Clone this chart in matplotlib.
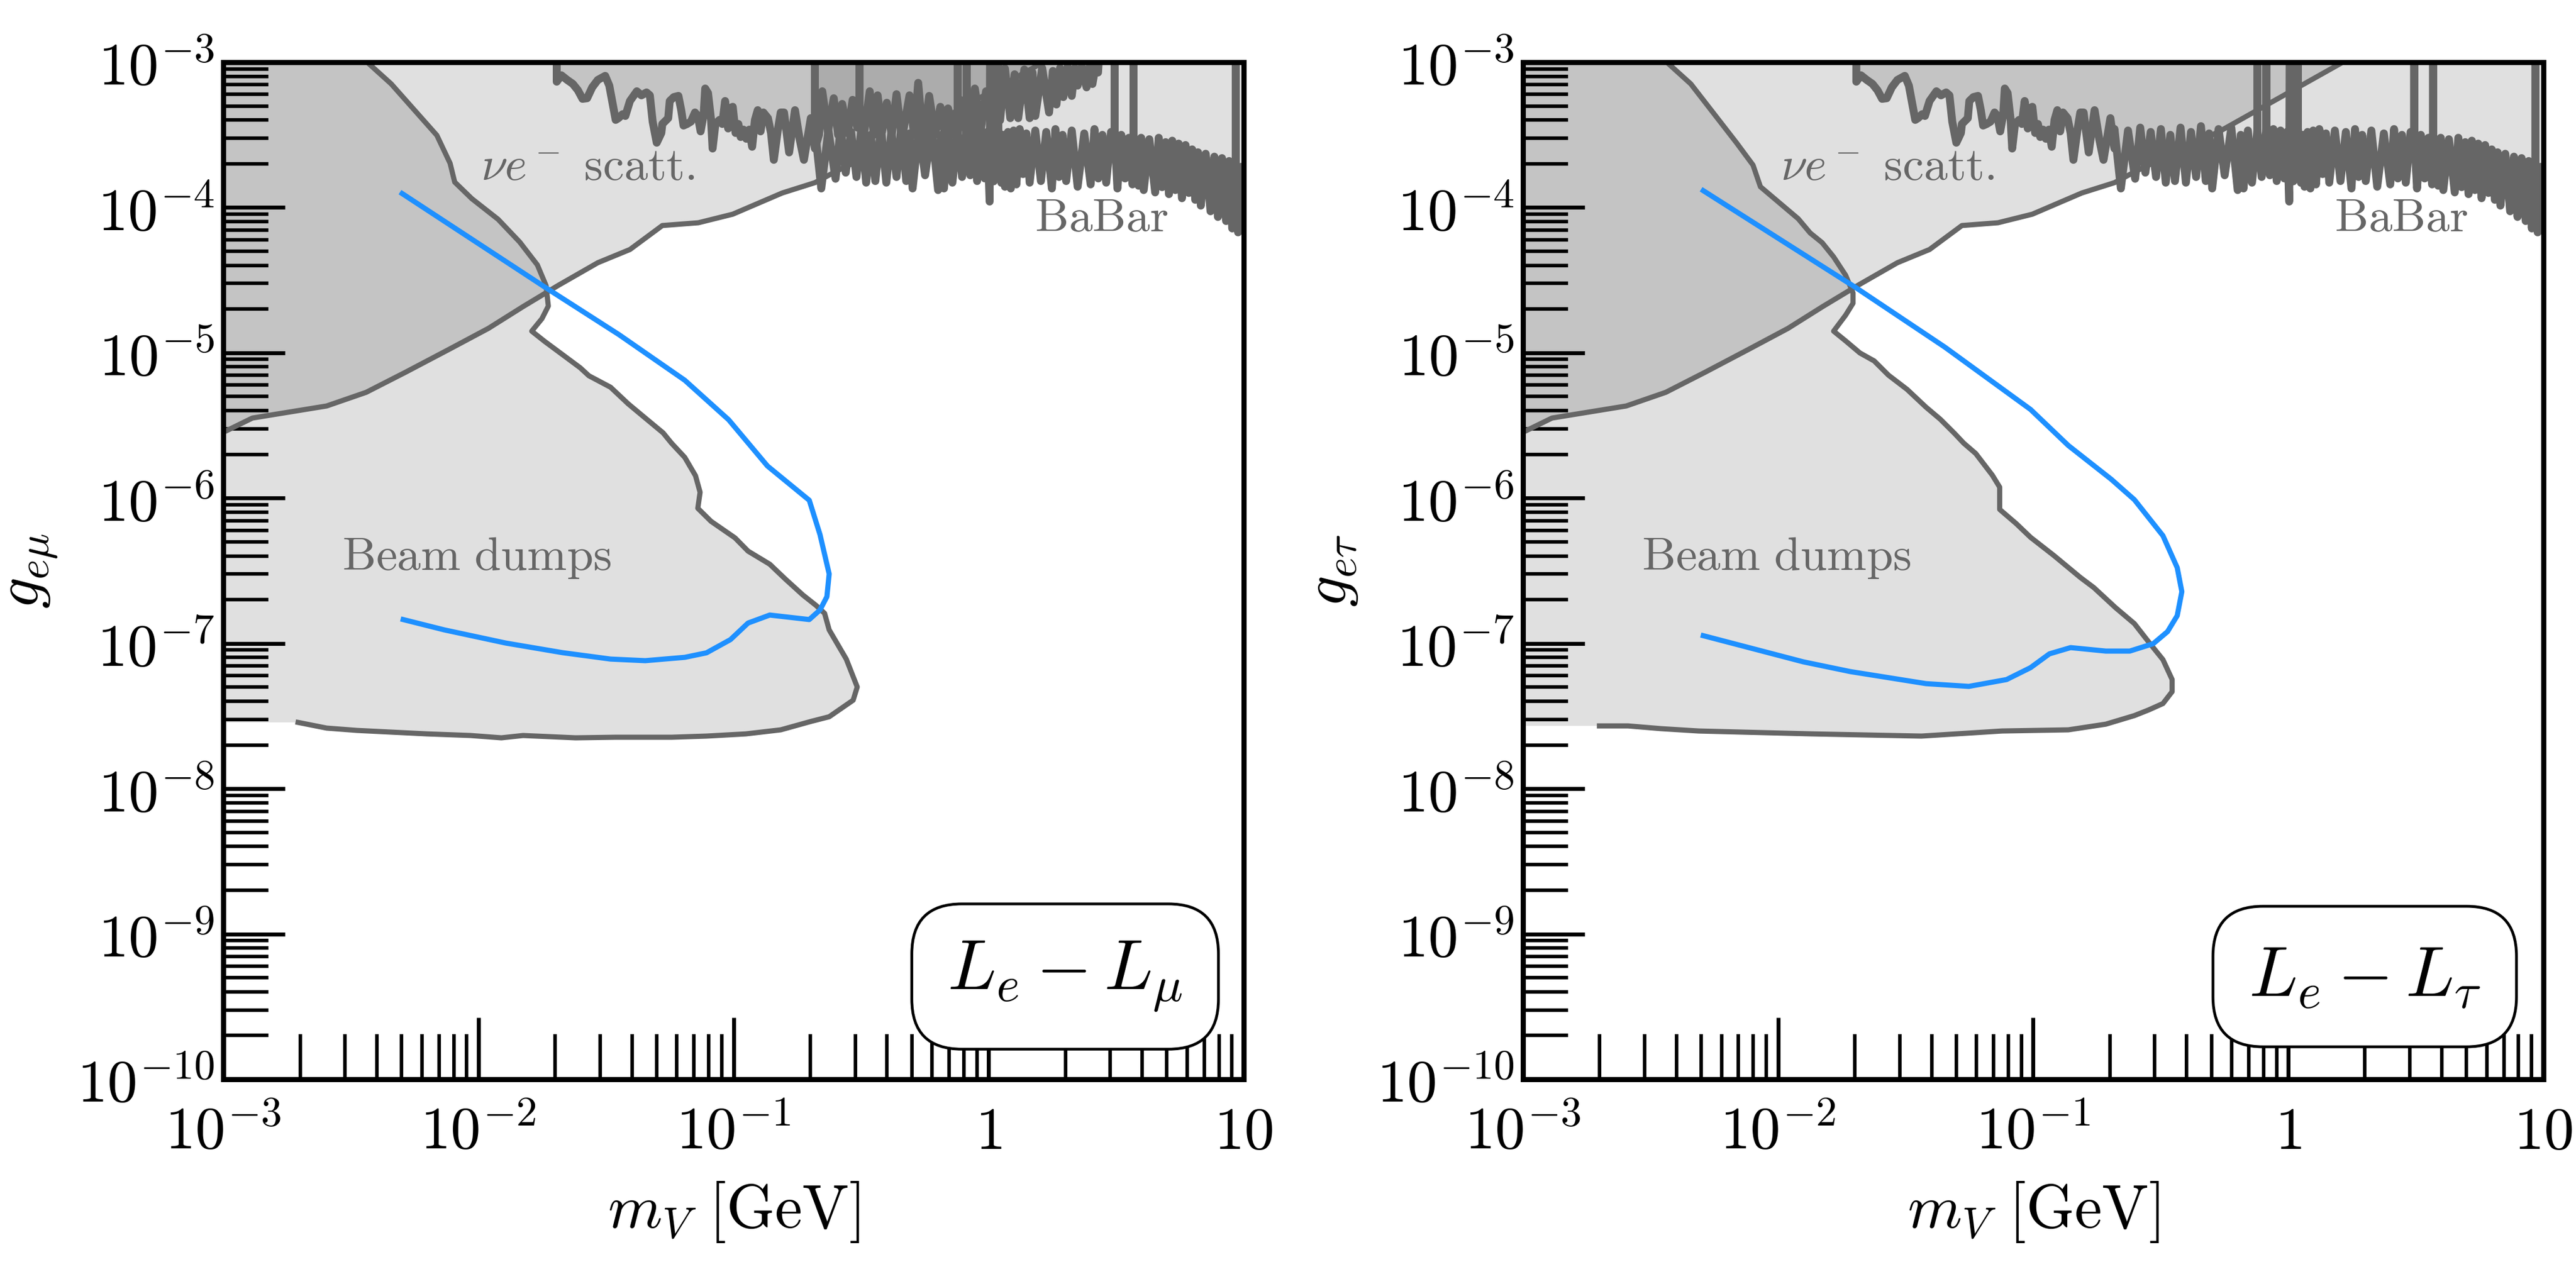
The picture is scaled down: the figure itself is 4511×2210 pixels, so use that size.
import numpy as np
import matplotlib.pyplot as plt
from matplotlib.ticker import LogLocator, NullFormatter

plt.rcParams['mathtext.fontset'] = 'cm'
plt.rcParams['font.family'] = ['DejaVu Serif']

# all contours stored as (log10 m_V/GeV, log10 g)
nu_scatt = [(-3.0, -5.547), (-2.886, -5.449), (-2.595, -5.366), (-2.440, -5.272),
            (-2.286, -5.134), (-2.116, -4.977), (-1.961, -4.832), (-1.825, -4.682),
            (-1.688, -4.537), (-1.532, -4.380), (-1.406, -4.289), (-1.279, -4.124),
            (-1.138, -4.105), (-1.003, -4.046), (-0.809, -3.900), (-0.681, -3.829),
            (-0.598, -3.751), (-0.269, -3.476), (0.214, -3.0)]

beam_dump_emu = [(-2.436, -3.0), (-2.342, -3.149), (-2.163, -3.503), (-2.111, -3.696),
                 (-2.093, -3.825), (-2.026, -3.939), (-1.923, -4.081), (-1.838, -4.238),
                 (-1.769, -4.395), (-1.735, -4.537), (-1.726, -4.678), (-1.751, -4.765),
                 (-1.791, -4.851), (-1.740, -4.922), (-1.670, -5.013), (-1.601, -5.103),
                 (-1.567, -5.158), (-1.482, -5.237), (-1.413, -5.351), (-1.346, -5.449),
                 (-1.276, -5.551), (-1.243, -5.622), (-1.191, -5.720), (-1.149, -5.846),
                 (-1.131, -5.960), (-1.140, -6.070), (-1.088, -6.160), (-0.994, -6.274),
                 (-0.943, -6.365), (-0.858, -6.455), (-0.797, -6.557), (-0.728, -6.667),
                 (-0.677, -6.738), (-0.643, -6.793), (-0.625, -6.907), (-0.558, -7.108),
                 (-0.515, -7.300), (-0.531, -7.391), (-0.625, -7.505), (-0.694, -7.536),
                 (-0.815, -7.595), (-0.952, -7.623), (-1.106, -7.638), (-1.243, -7.646),
                 (-1.464, -7.646), (-1.619, -7.650), (-1.825, -7.634), (-1.910, -7.650),
                 (-2.031, -7.634), (-2.201, -7.623), (-2.476, -7.599), (-2.595, -7.583),
                 (-2.707, -7.544)]

beam_dump_etau = [(-2.436, -3.0), (-2.342, -3.149), (-2.163, -3.554), (-2.098, -3.708),
                  (-2.069, -3.857), (-1.921, -4.077), (-1.874, -4.175), (-1.827, -4.242),
                  (-1.782, -4.340), (-1.735, -4.466), (-1.706, -4.588), (-1.706, -4.659),
                  (-1.735, -4.741), (-1.782, -4.851), (-1.735, -4.918), (-1.679, -5.001),
                  (-1.623, -5.056), (-1.567, -5.154), (-1.494, -5.252), (-1.420, -5.374),
                  (-1.364, -5.457), (-1.308, -5.555), (-1.272, -5.622), (-1.225, -5.693),
                  (-1.160, -5.842), (-1.131, -5.925), (-1.131, -6.078), (-1.066, -6.176),
                  (-1.010, -6.270), (-0.918, -6.396), (-0.815, -6.546), (-0.762, -6.616),
                  (-0.677, -6.754), (-0.603, -6.864), (-0.547, -6.990), (-0.491, -7.112),
                  (-0.455, -7.249), (-0.455, -7.332), (-0.491, -7.414), (-0.547, -7.458),
                  (-0.603, -7.497), (-0.715, -7.556), (-0.862, -7.595), (-1.122, -7.603),
                  (-1.438, -7.638), (-1.865, -7.623), (-2.311, -7.603), (-2.458, -7.587),
                  (-2.588, -7.568), (-2.700, -7.568)]

reach_emu = [(-2.299, -3.904), (-1.735, -4.553), (-1.449, -4.875), (-1.191, -5.189),
             (-1.019, -5.461), (-0.867, -5.779), (-0.703, -6.015), (-0.661, -6.251),
             (-0.625, -6.522), (-0.634, -6.679), (-0.661, -6.770), (-0.703, -6.836),
             (-0.858, -6.805), (-0.943, -6.860), (-1.012, -6.974), (-1.106, -7.065),
             (-1.191, -7.096), (-1.346, -7.119), (-1.482, -7.108), (-1.670, -7.064),
             (-1.892, -6.998), (-2.134, -6.907), (-2.295, -6.836)]

reach_etau = [(-2.293, -3.884), (-1.697, -4.549), (-1.346, -4.961), (-1.010, -5.390),
              (-0.862, -5.638), (-0.694, -5.870), (-0.603, -6.011), (-0.491, -6.259),
              (-0.435, -6.479), (-0.417, -6.644), (-0.435, -6.809), (-0.473, -6.919),
              (-0.529, -7.002), (-0.621, -7.053), (-0.715, -7.053), (-0.853, -7.029),
              (-0.936, -7.072), (-1.010, -7.167), (-1.104, -7.249), (-1.252, -7.296),
              (-1.420, -7.277), (-1.717, -7.194), (-1.901, -7.127), (-2.293, -6.947)]

babar_low = [(-1.693, -2.9), (-1.693, -3.134), (-1.675, -3.090), (-1.652, -3.122),
             (-1.630, -3.149), (-1.610, -3.193), (-1.592, -3.252), (-1.574, -3.248),
             (-1.554, -3.173), (-1.532, -3.122), (-1.503, -3.094), (-1.487, -3.161),
             (-1.462, -3.397), (-1.451, -3.385), (-1.435, -3.358), (-1.424, -3.370),
             (-1.406, -3.267), (-1.379, -3.200), (-1.361, -3.228), (-1.341, -3.208),
             (-1.328, -3.228), (-1.317, -3.409), (-1.301, -3.554), (-1.283, -3.487),
             (-1.279, -3.425), (-1.256, -3.385), (-1.250, -3.267), (-1.234, -3.240),
             (-1.216, -3.232), (-1.205, -3.330), (-1.196, -3.436), (-1.182, -3.425),
             (-1.167, -3.409), (-1.151, -3.346), (-1.140, -3.370), (-1.129, -3.476),
             (-1.117, -3.358), (-1.111, -3.181), (-1.100, -3.212), (-1.088, -3.397),
             (-1.082, -3.594), (-1.071, -3.425), (-1.055, -3.397), (-1.044, -3.425),
             (-1.033, -3.267), (-1.021, -3.456), (-1.015, -3.318), (-1.003, -3.307),
             (-0.992, -3.487), (-0.981, -3.425), (-0.972, -3.515), (-0.961, -3.464),
             (-0.950, -3.527), (-0.938, -3.464), (-0.927, -3.582), (-0.916, -3.397),
             (-0.905, -3.330), (-0.894, -3.476), (-0.883, -3.346), (-0.865, -3.385),
             (-0.853, -3.487), (-0.842, -3.672), (-0.827, -3.476), (-0.815, -3.346),
             (-0.802, -3.346), (-0.782, -3.621), (-0.759, -3.330), (-0.741, -3.527),
             (-0.724, -3.672), (-0.697, -3.385), (-0.681, -3.594)]

# e-mu only: low-mass search carries on above the dimuon band
babar_low_ext = [(-0.665, -3.50), (-0.652, -3.200), (-0.630, -3.48), (-0.607, -3.248),
                 (-0.590, -3.50), (-0.574, -3.287), (-0.552, -3.49), (-0.533, -3.259),
                 (-0.515, -3.45), (-0.506, -3.30), (-0.506, -2.8), (-0.506, -3.30),
                 (-0.490, -3.515), (-0.466, -3.200), (-0.450, -3.50), (-0.435, -3.228),
                 (-0.418, -3.48), (-0.399, -3.279), (-0.380, -3.50), (-0.361, -3.220),
                 (-0.340, -3.527), (-0.310, -3.228), (-0.292, -3.50), (-0.276, -3.142),
                 (-0.256, -3.554), (-0.233, -3.232), (-0.210, -3.50), (-0.189, -3.307),
                 (-0.172, -3.49), (-0.159, -3.318), (-0.135, -3.50), (-0.110, -3.26),
                 (-0.085, -3.52), (-0.070, -3.22), (-0.060, -3.594), (-0.054, -3.181),
                 (-0.030, -3.46), (-0.010, -3.20), (0.010, -3.42), (0.026, -3.083),
                 (0.045, -3.40), (0.064, -3.043), (0.085, -3.385), (0.102, -3.083),
                 (0.116, -3.385), (0.140, -3.05), (0.161, -3.385), (0.172, -3.07),
                 (0.183, -3.370), (0.210, -3.04), (0.237, -3.346), (0.252, -3.06),
                 (0.266, -3.291), (0.280, -3.04), (0.293, -3.240), (0.310, -3.03),
                 (0.326, -3.232), (0.338, -3.04), (0.349, -3.161), (0.365, -3.03),
                 (0.384, -3.173), (0.396, -3.03), (0.407, -3.150), (0.420, -3.02),
                 (0.429, -3.071), (0.438, -2.8)]

babar_mumu = [(-0.681, -3.46), (-0.656, -3.869), (-0.628, -3.47), (-0.600, -3.802),
              (-0.580, -3.45), (-0.560, -3.760), (-0.539, -3.48), (-0.518, -3.790),
              (-0.499, -3.46), (-0.480, -3.829), (-0.462, -3.50), (-0.444, -3.818),
              (-0.422, -3.45), (-0.401, -3.829), (-0.381, -3.48), (-0.361, -3.790),
              (-0.342, -3.44), (-0.323, -3.818), (-0.310, -3.49), (-0.298, -3.869),
              (-0.273, -3.46), (-0.249, -3.778), (-0.223, -3.45), (-0.198, -3.880),
              (-0.186, -3.50), (-0.175, -3.869), (-0.158, -3.47), (-0.142, -3.829),
              (-0.121, -3.47), (-0.121, -2.8), (-0.121, -3.47), (-0.104, -3.79),
              (-0.086, -3.46), (-0.086, -2.8), (-0.086, -3.46), (-0.072, -3.778),
              (-0.058, -3.46), (-0.045, -3.818), (-0.030, -3.47), (-0.015, -3.800),
              (-0.005, -3.48), (0.004, -3.959), (0.006, -2.8), (0.008, -3.47),
              (0.020, -3.82), (0.038, -3.45), (0.038, -2.8), (0.038, -3.45),
              (0.050, -3.83), (0.057, -3.50), (0.064, -3.857), (0.076, -3.48),
              (0.087, -3.869), (0.098, -3.47), (0.109, -3.841), (0.122, -3.46),
              (0.135, -3.770), (0.148, -3.49), (0.161, -3.829), (0.183, -3.47),
              (0.205, -3.818), (0.226, -3.48), (0.248, -3.869), (0.262, -3.46),
              (0.276, -3.790), (0.290, -3.50), (0.304, -3.818), (0.326, -3.47),
              (0.349, -3.857), (0.375, -3.49), (0.400, -3.841), (0.415, -3.46),
              (0.430, -3.800), (0.446, -3.50), (0.461, -3.829), (0.480, -3.48),
              (0.494, -3.50), (0.494, -2.8), (0.494, -3.50), (0.505, -3.869),
              (0.520, -3.50), (0.535, -3.800), (0.550, -3.52), (0.564, -3.841),
              (0.568, -3.52), (0.568, -2.8), (0.568, -3.52), (0.588, -3.85),
              (0.598, -3.52), (0.608, -3.880), (0.630, -3.53), (0.653, -3.896),
              (0.667, -3.52), (0.680, -3.860), (0.694, -3.55), (0.707, -3.908),
              (0.720, -3.54), (0.732, -3.880), (0.745, -3.56), (0.758, -3.936),
              (0.772, -3.57), (0.785, -3.900), (0.798, -3.60), (0.810, -3.947),
              (0.821, -3.62), (0.832, -3.987), (0.851, -3.63), (0.870, -4.026),
              (0.885, -3.65), (0.899, -4.065), (0.915, -3.66), (0.931, -4.093),
              (0.943, -3.68), (0.955, -4.144), (0.969, -3.70), (0.969, -2.8),
              (0.969, -3.70), (0.978, -4.171), (0.990, -3.72), (1.0, -4.10)]

x_ticks = [1e-3, 1e-2, 1e-1, 1, 10]
x_ticklabels = [r'$10^{-3}$', r'$10^{-2}$', r'$10^{-1}$', r'$1$', r'$10$']
y_ticks = [10.0 ** k for k in range(-10, -2)]
y_ticklabels = [r'$10^{%d}$' % k for k in range(-10, -2)]

GREY = '#666666'
BLUE = '#1E90FF'


def to_mg(pairs):
    a = np.array(pairs)
    return 10 ** a[:, 0], 10 ** a[:, 1]


def draw_panel(ax, beam_dump, reach, babar_sets, ylabel, model):
    ax.set_xscale('log')
    ax.set_yscale('log')
    shade = dict(color='black', alpha=0.12, lw=0, zorder=1)
    edge = dict(color=GREY, lw=6.5, zorder=2, solid_joinstyle='round')

    m, g = to_mg(nu_scatt)
    ax.fill_between(m, g, 1e-2, **shade)
    ax.plot(m, g, **edge)

    m, g = to_mg(beam_dump)
    ax.fill(np.concatenate([m, [1e-3, 1e-3, m[0]]]),
            np.concatenate([g, [g[-1], 1e-2, 1e-2]]), **shade)
    ax.plot(m, g, **edge)

    for pairs in babar_sets:
        m, g = to_mg(pairs)
        ax.fill_between(m, g, 1e-2, **shade)
        ax.plot(m, g, color=GREY, lw=10, zorder=2,
                solid_joinstyle='round', solid_capstyle='round')

    m, g = to_mg(reach)
    ax.plot(m, g, color=BLUE, lw=6.5, zorder=3)

    ax.text(10 ** -1.99, 10 ** -3.81, r'$\nu e^-\ \mathrm{scatt.}$',
            color=GREY, fontsize=60, va='baseline', zorder=4)
    ax.text(10 ** 0.181, 10 ** -4.163, r'$\mathrm{BaBar}$',
            color=GREY, fontsize=60, va='baseline', zorder=4)
    ax.text(10 ** -2.534, 10 ** -6.495, r'$\mathrm{Beam\ dumps}$',
            color=GREY, fontsize=60, va='baseline', zorder=4)

    ax.text(0.825, 0.101, model, transform=ax.transAxes, fontsize=90,
            ha='center', va='center', zorder=10,
            bbox=dict(boxstyle='round,pad=0.5,rounding_size=0.7',
                      fc='white', ec='black', lw=3.5))

    ax.set_xlim(1e-3, 10)
    ax.set_ylim(1e-10, 1e-3)
    ax.set_xticks(x_ticks)
    ax.set_xticklabels(x_ticklabels, va='baseline')
    ax.set_yticks(y_ticks)
    ax.set_yticklabels(y_ticklabels)
    ax.xaxis.set_minor_locator(LogLocator(base=10, subs=np.arange(2, 10), numticks=100))
    ax.yaxis.set_minor_locator(LogLocator(base=10, subs=np.arange(2, 10), numticks=100))
    ax.xaxis.set_minor_formatter(NullFormatter())
    ax.yaxis.set_minor_formatter(NullFormatter())
    ax.tick_params(which='both', direction='in', top=False, right=False,
                   labelsize=76)
    ax.tick_params(which='major', length=78, width=5)
    ax.tick_params(which='minor', length=57, width=4.5)
    ax.tick_params(axis='y', pad=11)
    ax.tick_params(axis='x', pad=88)
    for s in ax.spines.values():
        s.set_linewidth(6.5)
        s.set_zorder(5)

    ax.set_xlabel(r'$m_V\ [\mathrm{GeV}]$', fontsize=78)
    ax.xaxis.set_label_coords(0.5, -0.099)
    ax.set_ylabel(ylabel, fontsize=78)
    ax.yaxis.set_label_coords(-0.16, 0.5)


fig = plt.figure(figsize=(45.11, 22.10), dpi=100)
ax1 = fig.add_axes([0.0867, 0.1448, 0.3961, 0.8059])
ax2 = fig.add_axes([0.5912, 0.1448, 0.3961, 0.8059])

draw_panel(ax1, beam_dump_emu, reach_emu,
           [babar_low + babar_low_ext, [(-0.681, -2.8)] + babar_mumu],
           r'$g_{e\mu}$', r'$L_e - L_\mu$')
draw_panel(ax2, beam_dump_etau, reach_etau,
           [babar_low + babar_mumu],
           r'$g_{e\tau}$', r'$L_e - L_\tau$')

fig.savefig('out.png', dpi=100, facecolor='white')
